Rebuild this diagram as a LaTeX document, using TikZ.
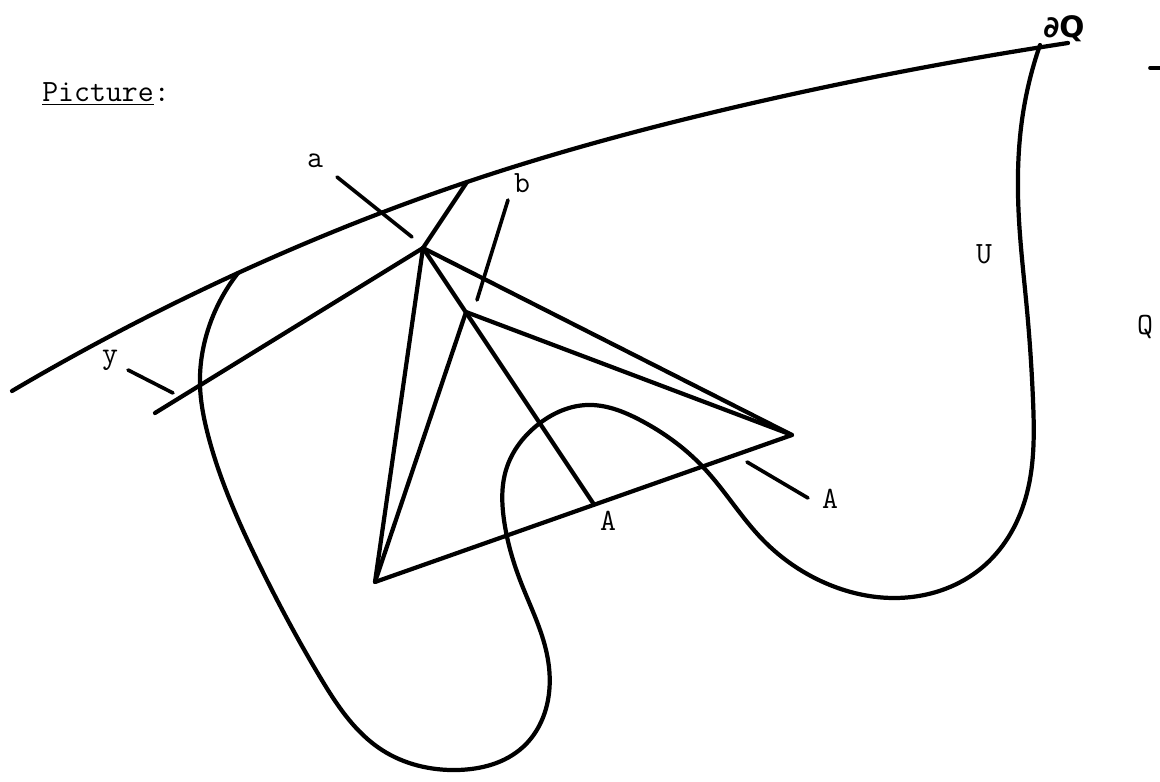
\documentclass[tikz,border=0pt]{standalone}
\usepackage{fontspec}
\newfontfamily\handfont{DejaVu Sans}
\usetikzlibrary{positioning,hobby}
\begin{document}
\begin{tikzpicture}[x=0.025cm,y=-0.025cm,
    curve/.style={line width=3pt, line cap=round, line join=round},
    pointer/.style={line width=2.6pt, line cap=round},
    lbl/.style={font=\fontsize{22}{26}\selectfont\ttfamily, inner sep=0pt, anchor=base}]
\useasboundingbox (0,0) rectangle (1160,782);

% heading
\node[lbl, anchor=base west] (head) at (42,102) {\underline{Picture}:};

% vertices
\coordinate (a) at (423,248);
\coordinate (b) at (466,312);
\coordinate (L) at (375,582);
\coordinate (R) at (792,435);
\coordinate (F) at (593,503);
\coordinate (ja) at (467,182);
\coordinate (ye) at (155,413);

% boundary of Q
\draw[curve, use Hobby shortcut] (12,391) .. (238,273) .. (467,182) .. (740,106) .. (1068,43);
\node[font=\handfont\bfseries\fontsize{21}{25}\selectfont, inner sep=0pt, anchor=base] (dQ) at (1064,38) {∂Q};

% the set U
\draw[curve, use Hobby shortcut] (238,273) .. (207,333) .. (200,385) .. (208,435) .. (257,560)
    .. (320,677) .. (382,750) .. (457,770) .. (523,747) .. (548,700) .. (546,650) .. (520,580)
    .. (504,520) .. (506,470) .. (540,423) .. (587,405) .. (640,420) .. (703,467) .. (763,540)
    .. (830,585) .. (895,598) .. (985,565) .. (1027,493) .. (1033,400) .. (1027,310) .. (1019,220)
    .. (1022,120) .. (1040,45);

% triangles
\draw[curve] (ja) -- (a);
\draw[curve] (a) -- (L) -- (R) -- cycle;
\draw[curve] (a) -- (F);
\draw[curve] (L) -- (b) -- (R);
\draw[curve] (a) -- (ye);

% labels
\node[lbl] (la) at (315,167) {a};
\node[lbl] (lb) at (522,193) {b};
\node[lbl] (ly) at (110,363) {y};
\node[lbl] (lA1) at (608,530) {A};
\node[lbl] (lA2) at (830,508) {A};
\node[lbl] (lU) at (984,263) {U};
\node[lbl] (lQ) at (1145,334) {Q};

% pointers
\coordinate (pa) at (337,177);
\coordinate (pb) at (508,200);
\coordinate (py) at (128,370);
\coordinate (pA) at (808,498);
\draw[pointer] (pa) -- (412,237);
\draw[pointer] (pb) -- (477,300);
\draw[pointer] (py) -- (173,393);
\draw[pointer] (pA) -- (747,462);

% mark at the edge
\draw[pointer] (1150,68) -- (1160,68);
\end{tikzpicture}
\end{document}
